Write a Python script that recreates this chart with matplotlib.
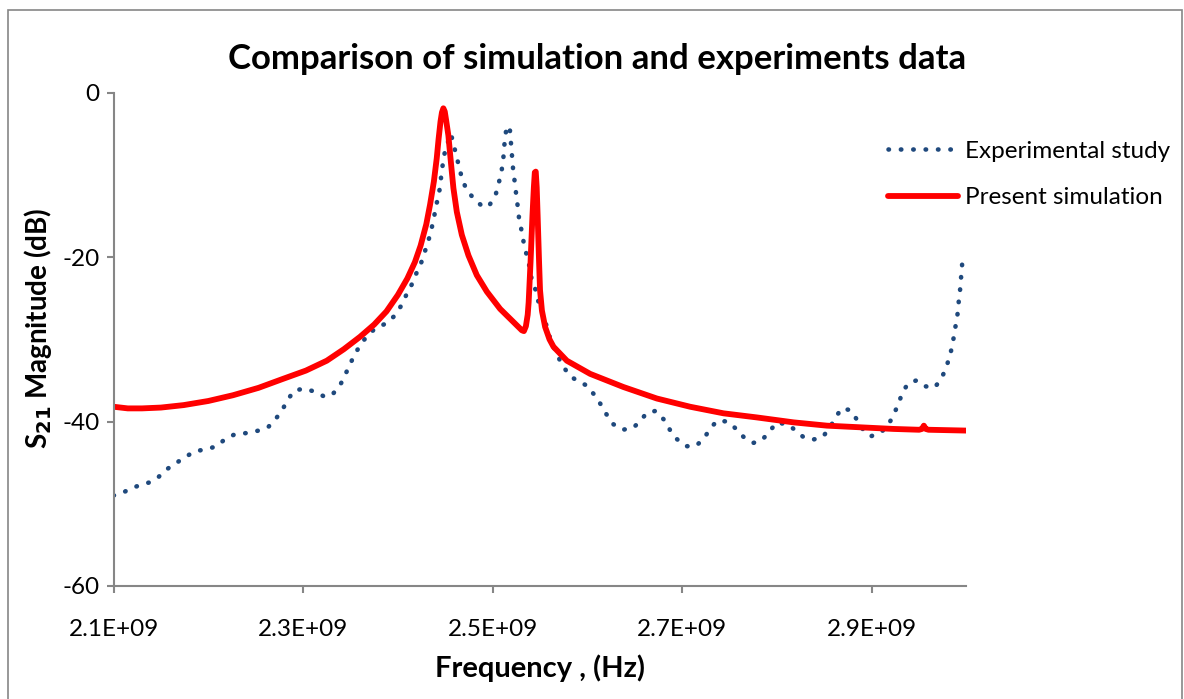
import matplotlib
matplotlib.use("Agg")
import matplotlib.pyplot as plt
from matplotlib.patches import Rectangle

plt.rcParams['font.family'] = ['Lato', 'DejaVu Sans']
plt.rcParams['axes.unicode_minus'] = False

# experimental study, frequency in GHz and S21 in dB
exp_freq = [2.100, 2.109, 2.119, 2.129, 2.138, 2.147, 2.155, 2.164, 2.176, 2.186,
            2.197, 2.209, 2.218, 2.229, 2.241, 2.253, 2.263, 2.271, 2.278, 2.284,
            2.291, 2.302, 2.313, 2.323, 2.331, 2.339, 2.344, 2.349, 2.354, 2.361,
            2.368, 2.377, 2.387, 2.396, 2.403, 2.408, 2.414, 2.419, 2.424, 2.428,
            2.432, 2.435, 2.438, 2.440, 2.443, 2.445, 2.446, 2.448, 2.450, 2.456,
            2.459, 2.462, 2.465, 2.468, 2.473, 2.481, 2.490, 2.496, 2.503, 2.506,
            2.509, 2.511, 2.512, 2.513, 2.515, 2.518, 2.519, 2.520, 2.521, 2.522,
            2.524, 2.525, 2.527, 2.528, 2.531, 2.533, 2.536, 2.539, 2.541, 2.545,
            2.548, 2.552, 2.556, 2.559, 2.563, 2.568, 2.574, 2.581, 2.590, 2.599,
            2.607, 2.614, 2.620, 2.627, 2.637, 2.648, 2.657, 2.662, 2.672, 2.681,
            2.687, 2.694, 2.704, 2.714, 2.723, 2.729, 2.737, 2.748, 2.757, 2.765,
            2.775, 2.784, 2.792, 2.800, 2.812, 2.821, 2.828, 2.838, 2.848, 2.855,
            2.861, 2.868, 2.877, 2.884, 2.891, 2.899, 2.910, 2.918, 2.923, 2.928,
            2.932, 2.938, 2.947, 2.956, 2.966, 2.973, 2.978, 2.982, 2.985, 2.987,
            2.989, 2.991, 2.992, 2.993, 2.994, 2.995, 2.996]
exp_db = [-49.0, -48.7, -48.1, -47.7, -47.4, -46.8, -45.9, -45.2, -44.3, -43.6,
          -43.4, -43.0, -42.1, -41.5, -41.4, -41.1, -40.7, -39.7, -38.6, -37.3,
          -36.2, -36.0, -36.4, -37.0, -36.7, -35.6, -34.4, -33.2, -31.9, -30.6,
          -29.5, -28.6, -28.1, -27.2, -26.0, -24.8, -23.5, -22.1, -20.9, -19.5,
          -18.1, -16.8, -15.3, -13.9, -12.5, -11.1, -9.7, -8.3, -6.9, -5.0,
          -6.4, -7.8, -9.2, -10.6, -11.9, -13.0, -13.9, -13.8, -12.5, -11.2,
          -9.8, -8.4, -6.9, -5.5, -4.1, -4.2, -5.6, -7.0, -8.4, -9.9,
          -11.3, -12.7, -14.2, -15.5, -17.0, -18.4, -19.8, -21.2, -22.6, -23.9,
          -25.3, -26.7, -28.0, -29.3, -30.6, -31.9, -33.2, -34.4, -35.1, -35.6,
          -36.7, -37.9, -39.1, -40.3, -41.0, -40.8, -39.8, -39.0, -38.7, -39.8,
          -41.0, -42.1, -43.0, -43.0, -42.1, -40.9, -39.9, -40.0, -40.9, -41.9,
          -42.6, -42.3, -41.2, -40.1, -40.4, -41.2, -41.9, -42.2, -41.9, -40.9,
          -39.7, -38.4, -38.6, -39.7, -41.0, -41.8, -41.3, -40.3, -39.2, -37.9,
          -36.6, -35.4, -35.0, -35.7, -35.9, -34.9, -33.6, -32.2, -30.8, -29.4,
          -28.0, -26.6, -25.1, -24.3, -22.9, -21.5, -20.0]

# present simulation
sim_freq = [2.100, 2.115, 2.130, 2.150, 2.174, 2.200, 2.226, 2.253, 2.279, 2.303,
            2.325, 2.343, 2.360, 2.375, 2.388, 2.400, 2.410, 2.418, 2.424, 2.430,
            2.434, 2.438, 2.441, 2.443, 2.445, 2.4465, 2.448, 2.4495, 2.451, 2.4533,
            2.4559, 2.4586, 2.4622, 2.4675, 2.4745, 2.4833, 2.4939, 2.5079, 2.522, 2.5308,
            2.533, 2.5351, 2.537, 2.538, 2.540, 2.542, 2.5435, 2.5445, 2.5455, 2.5465,
            2.5475, 2.549, 2.550, 2.552, 2.5554, 2.5600, 2.5642, 2.5783, 2.6029, 2.638,
            2.6733, 2.7084, 2.7436, 2.7788, 2.8175, 2.8527, 2.8879, 2.923, 2.950, 2.953,
            2.955, 2.957, 2.960, 3.000]
sim_db = [-38.2, -38.4, -38.4, -38.3, -38.0, -37.5, -36.8, -35.9, -34.8, -33.8,
          -32.6, -31.2, -29.7, -28.2, -26.6, -24.6, -22.6, -20.6, -18.6, -16.0,
          -13.6, -10.8, -8.0, -5.6, -3.5, -2.4, -1.9, -2.3, -3.4, -5.2,
          -8.4, -11.6, -14.5, -17.3, -19.8, -22.2, -24.2, -26.3, -27.9, -28.9,
          -29.0, -28.4, -27.0, -25.5, -20.6, -15.0, -11.5, -9.7, -9.6, -11.5,
          -15.0, -20.6, -24.0, -26.5, -28.5, -30.0, -30.9, -32.6, -34.2, -35.8,
          -37.2, -38.2, -39.0, -39.5, -40.1, -40.5, -40.7, -40.9, -41.0, -40.9,
          -40.5, -40.9, -41.0, -41.1]

x_ticks = [2.1, 2.3, 2.5, 2.7, 2.9]
x_tick_labels = ['2.1E+09', '2.3E+09', '2.5E+09', '2.7E+09', '2.9E+09']
y_ticks = [0, -20, -40, -60]

fig = plt.figure(figsize=(11.84, 6.99), dpi=100)
ax = fig.add_axes([0.0959, 0.1617, 0.7204, 0.7057])

grey = '#868686'
ax.plot(exp_freq, exp_db, color='#1F497D', lw=3.3, linestyle=(0, (0.1, 2.6)),
        dash_capstyle='round', label='Experimental study')
ax.plot(sim_freq, sim_db, color='#FF0000', lw=4.2, solid_joinstyle='round',
        solid_capstyle='round', label='Present simulation')

ax.set_xlim(2.1, 3.0)
ax.set_ylim(-60, 0)
ax.set_xticks(x_ticks)
ax.set_xticklabels(x_tick_labels)
ax.set_yticks(y_ticks)
ax.tick_params(axis='both', direction='out', length=5, width=1.5, color=grey,
               labelsize=17.5, labelcolor='black')
ax.tick_params(axis='x', pad=19)
ax.tick_params(axis='y', pad=5)
for side in ['top', 'right']:
    ax.spines[side].set_visible(False)
for side in ['left', 'bottom']:
    ax.spines[side].set_color(grey)
    ax.spines[side].set_linewidth(1.5)

ax.set_xlabel('Frequency , (Hz)', fontsize=21, fontweight='bold', labelpad=10)
fig.text(38 / 1184, 1 - 328 / 699, 'S$_{\\mathbf{21}}$ Magnitude (dB)', rotation=90,
         ha='center', va='center', fontsize=20, fontweight='bold')
fig.suptitle('Comparison of simulation and experiments data', x=0.504, y=0.916,
             va='center', fontsize=25, fontweight='bold')

ax.legend(loc='upper left', bbox_to_anchor=(888 / 1184, 0.799), bbox_transform=fig.transFigure,
          frameon=False, fontsize=17.5, handlelength=2.88, handletextpad=0.3,
          labelspacing=1.05, borderpad=0, borderaxespad=0)

fig.patches.append(Rectangle((0.007, -0.01), 0.991, 0.996, transform=fig.transFigure,
                             fill=False, edgecolor=grey, lw=1.2))

fig.savefig('out.png', dpi=100)
